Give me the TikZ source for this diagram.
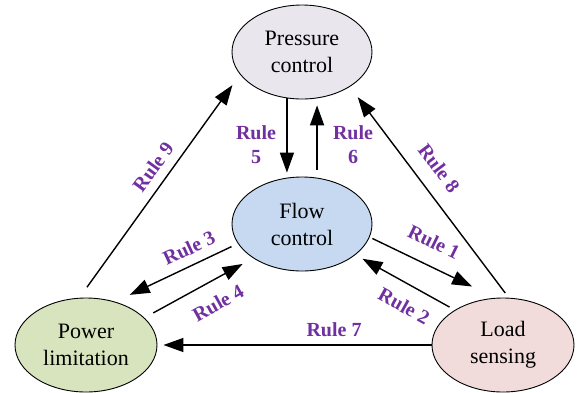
\documentclass[tikz,border=0pt]{standalone}
\usepackage{fontspec}
\setmainfont{Liberation Serif}
\usetikzlibrary{arrows.meta,shapes.geometric}
\definecolor{rulepurple}{HTML}{7030A0}
\definecolor{prfill}{HTML}{EAE6EE}
\definecolor{flfill}{HTML}{C6D9F0}
\definecolor{pwfill}{HTML}{D7E4BD}
\definecolor{ldfill}{HTML}{F2DCDB}
\begin{document}
\begin{tikzpicture}[x=1pt,y=-1pt,
  state/.style={ellipse, draw, line width=0.9pt, minimum width=140pt, minimum height=94pt,
    inner sep=0pt, align=center, font=\fontsize{22}{27}\selectfont},
  conn/.style={-{Triangle[length=20pt,width=14pt]}, line width=1.4pt},
  rulelabel/.style={text=rulepurple, font=\bfseries\fontsize{20}{24}\selectfont,
    align=center, inner sep=0pt}]
\useasboundingbox (0,0) rectangle (579,392);

\node[state, fill=prfill] (pr) at (302,52) {Pressure\\control};
\node[state, fill=flfill] (fl) at (302,224) {Flow\\control};
\node[state, fill=pwfill, minimum width=142pt] (pw) at (86,345) {Power\\limitation};
\node[state, fill=ldfill, minimum width=142pt] (ld) at (503,345) {Load\\sensing};

% Rule 5 and Rule 6
\draw[conn, shorten >=5pt] (pr.252) -- (fl.108);
\draw[conn, shorten <=8pt, shorten >=7pt] (fl.72) -- (pr.288);
% Rule 9
\draw[conn, shorten <=13pt, shorten >=13pt] (pw.98) -- (pr.200);
% Rule 3
\draw[conn, shorten <=7pt, shorten >=16pt] (fl.197) -- (pw.56);
% Rule 4
\draw[conn, shorten <=10pt, shorten >=12pt] (pw.25) -- (fl.215);
% Rule 7
\draw[conn, shorten >=6pt] (ld.west) -- (pw.east);
% Rule 1
\draw[conn, shorten <=3pt, shorten >=26pt] (fl.349) -- (ld.99);
% Rule 2
\draw[conn, shorten <=6pt, shorten >=8pt] (ld.144) -- (fl.330);
% Rule 8
\draw[conn, shorten <=6pt, shorten >=13pt] (ld.83) -- (pr.324);

\node[rulelabel] (r5) at (256,145) {Rule\\5};
\node[rulelabel] (r6) at (353,145) {Rule\\6};
\node[rulelabel, rotate=54] (r9) at (153,167) {Rule 9};
\node[rulelabel, rotate=25] (r3) at (189,248) {Rule 3};
\node[rulelabel, rotate=29] (r4) at (218,303) {Rule 4};
\node[rulelabel] (r7) at (334,330) {Rule 7};
\node[rulelabel, rotate=-26] (r1) at (434,242) {Rule 1};
\node[rulelabel, rotate=-29] (r2) at (404,306) {Rule 2};
\node[rulelabel, rotate=-53] (r8) at (439,168) {Rule 8};
\end{tikzpicture}
\end{document}
